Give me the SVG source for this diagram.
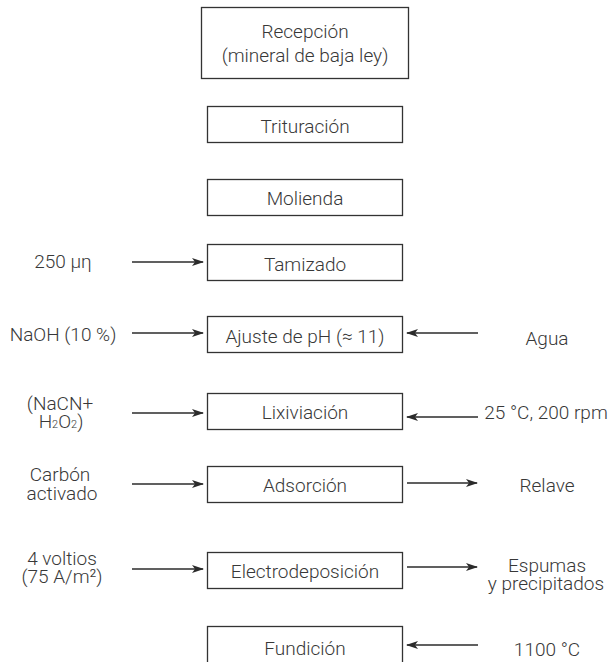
<svg xmlns="http://www.w3.org/2000/svg" width="610" height="662" viewBox="0 0 610 662">
<style>
  .box { fill: #ffffff; stroke: #333333; stroke-width: 1.3; }
  .t { font-family: Roboto, "Liberation Sans", sans-serif; font-weight: 300; font-size: 19px; fill: #383838; text-anchor: middle; }
  .sub { font-size: 11px; }
  .edge { stroke: #2b2b2b; stroke-width: 1.3; fill: none; marker-end: url(#arr); }
</style>
<defs>
  <marker id="arr" viewBox="0 0 12 8" refX="11" refY="4" markerWidth="12" markerHeight="8" markerUnits="userSpaceOnUse" orient="auto">
    <path d="M0,0 L12,4 L0,8 L3,4 z" fill="#2b2b2b"/>
  </marker>
</defs>
<rect width="610" height="662" fill="#ffffff"/>

<g id="n-recepcion">
  <rect class="box" x="201.5" y="7.5" width="207" height="71"/>
  <text class="t" x="305" y="38">Recepción</text>
  <text class="t" x="305" y="62">(mineral de baja ley)</text>
</g>
<g id="n-trituracion">
  <rect class="box" x="207.5" y="106.5" width="195" height="36"/>
  <text class="t" x="305" y="133">Trituración</text>
</g>
<g id="n-molienda">
  <rect class="box" x="207.5" y="179.5" width="195" height="36"/>
  <text class="t" x="305" y="205">Molienda</text>
</g>
<g id="n-tamizado">
  <rect class="box" x="207.5" y="244.5" width="195" height="36"/>
  <text class="t" x="305" y="271">Tamizado</text>
</g>
<g id="n-ajuste">
  <rect class="box" x="207.5" y="316.5" width="195" height="36"/>
  <text class="t" x="305" y="343">Ajuste de pH (≈ 11)</text>
</g>
<g id="n-lixiviacion">
  <rect class="box" x="207.5" y="393.5" width="195" height="36"/>
  <text class="t" x="305" y="419">Lixiviación</text>
</g>
<g id="n-adsorcion">
  <rect class="box" x="207.5" y="466.5" width="195" height="36"/>
  <text class="t" x="305" y="492">Adsorción</text>
</g>
<g id="n-electro">
  <rect class="box" x="207.5" y="552.5" width="195" height="36"/>
  <text class="t" x="305" y="578">Electrodeposición</text>
</g>
<g id="n-fundicion">
  <rect class="box" x="207.5" y="626.5" width="195" height="46"/>
  <text class="t" x="305" y="655">Fundición</text>
</g>

<g id="l-250"><text class="t" x="63" y="268">250 µη</text></g>
<g id="l-naoh"><text class="t" x="63" y="341">NaOH (10 %)</text></g>
<g id="l-nacn">
  <text class="t" x="60" y="410">(NaCN+</text>
  <text class="t" x="61" y="428">H<tspan class="sub">2</tspan>O<tspan class="sub">2</tspan>)</text>
</g>
<g id="l-carbon">
  <text class="t" x="60" y="481">Carbón</text>
  <text class="t" x="62" y="500">activado</text>
</g>
<g id="l-voltios">
  <text class="t" x="62" y="565">4 voltios</text>
  <text class="t" x="62" y="583">(75 A/m²)</text>
</g>
<g id="l-agua"><text class="t" x="547" y="345">Agua</text></g>
<g id="l-temp"><text class="t" x="546" y="419">25 °C, 200 rpm</text></g>
<g id="l-relave"><text class="t" x="547" y="492">Relave</text></g>
<g id="l-espumas">
  <text class="t" x="547" y="572">Espumas</text>
  <text class="t" x="546" y="590">y precipitados</text>
</g>
<g id="l-1100"><text class="t" x="547" y="656">1100 °C</text></g>

<g id="connectors">
  <line class="edge" x1="132" y1="262" x2="203" y2="262"/>
  <line class="edge" x1="132" y1="333" x2="203" y2="333"/>
  <line class="edge" x1="478" y1="333" x2="407" y2="333"/>
  <line class="edge" x1="132" y1="413" x2="203" y2="413"/>
  <line class="edge" x1="478" y1="417" x2="407" y2="417"/>
  <line class="edge" x1="132" y1="484" x2="203" y2="484"/>
  <line class="edge" x1="407" y1="483" x2="477" y2="483"/>
  <line class="edge" x1="132" y1="569" x2="203" y2="569"/>
  <line class="edge" x1="407" y1="567" x2="477" y2="567"/>
  <line class="edge" x1="478" y1="645" x2="407" y2="645"/>
</g>
</svg>
